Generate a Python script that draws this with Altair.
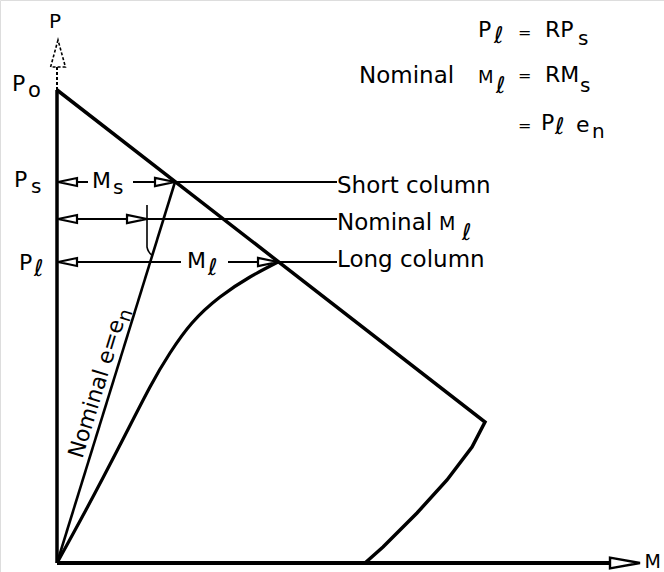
import altair as alt
import pandas as pd

# Drawing units: M to the right, P upward, origin at the corner of the axes.
# Interaction diagram: compression-failure line from Po, then the tension branch.
diagram_M = [0, 428, 415, 390, 360, 326, 308]
diagram_P = [473, 141, 116, 83, 50, 16, 0]

# Load path of the long (slender) column
long_M = [0, 30, 63, 93, 113, 135, 163, 193, 221]
long_P = [0, 55, 118, 176, 210, 240, 266, 286, 301]

# Nominal eccentricity line e = e_n (short-column load path)
nominal_M = [0, 118]
nominal_P = [0, 381]

# Load levels and moments
P_o, P_s, P_nom, P_l = 473, 381, 344, 301
M_s, M_nom, M_l = 118, 90, 221

# Small vertical marker where nominal M_l meets the e = e_n line
tick_M = [90, 90, 92, 95]
tick_P = [358, 316, 311, 308]

# Horizontal dimension lines: (P, M start, M end)
row_P = [P_s, P_s, P_nom, P_l, P_l]
row_M1 = [0, 76, 0, 0, 171]
row_M2 = [31, 280, 280, 124, 280]

M_axis_end = 583
P_axis_end = 523

X = lambda f="M": alt.X(f"{f}:Q", scale=alt.Scale(domain=[-57, 607]), axis=None)
Y = lambda f="P": alt.Y(f"{f}:Q", scale=alt.Scale(domain=[-9, 563]), axis=None)

FONT = "DejaVu Sans"

diagram = alt.Chart(pd.DataFrame({"M": diagram_M, "P": diagram_P, "i": range(len(diagram_M))})).mark_line(
    color="black", strokeWidth=3.5, strokeJoin="miter"
).encode(x=X(), y=Y(), order="i:Q")

long_path = alt.Chart(pd.DataFrame({"M": long_M, "P": long_P})).mark_line(
    color="black", strokeWidth=3.2, interpolate="natural"
).encode(x=X(), y=Y())

nominal = alt.Chart(pd.DataFrame({"M": nominal_M, "P": nominal_P})).mark_line(
    color="black", strokeWidth=2.6
).encode(x=X(), y=Y())

tick = alt.Chart(pd.DataFrame({"M": tick_M, "P": tick_P, "i": range(len(tick_M))})).mark_line(
    color="black", strokeWidth=1.6, interpolate="monotone"
).encode(x=X(), y=Y(), order="i:Q")

rows = alt.Chart(pd.DataFrame({"P": row_P, "M": row_M1, "M2": row_M2})).mark_rule(
    color="black", strokeWidth=2
).encode(x=X(), x2="M2:Q", y=Y())

axes_df = pd.DataFrame({
    "M": [0, 0, 0], "M2": [M_axis_end - 10, 0, 0],
    "P": [0, 0, P_o], "P2": [0, P_o, P_axis_end - 26], "k": ["m", "p", "pd"],
})
m_axis = alt.Chart(axes_df[axes_df.k == "m"]).mark_rule(color="black", strokeWidth=4).encode(
    x=X(), x2="M2:Q", y=Y())
p_axis = alt.Chart(axes_df[axes_df.k == "p"]).mark_rule(color="black", strokeWidth=3.5).encode(
    x=X(), y=Y(), y2="P2:Q")
p_axis_top = alt.Chart(axes_df[axes_df.k == "pd"]).mark_rule(
    color="black", strokeWidth=2, strokeDash=[3, 2]).encode(x=X(), y=Y(), y2="P2:Q")

LEFT = "M0,0L2,-0.42L2,0.42Z"
RIGHT = "M0,0L-2,-0.42L-2,0.42Z"


def heads(Ms, Ps, shape, size, width=2.0, dash=None):
    kw = dict(shape=shape, size=size, filled=True, fill="white", stroke="black",
              strokeWidth=width, opacity=1)
    if dash:
        kw["strokeDash"] = dash
    return alt.Chart(pd.DataFrame({"M": Ms, "P": Ps})).mark_point(**kw).encode(x=X(), y=Y())


left_heads = heads([1, 1, 1], [P_s, P_nom, P_l], LEFT, 361, 2.2)
right_heads = heads([M_s, M_nom, M_l], [P_s, P_nom, P_l], RIGHT, 400, 2.2)
m_head = heads([M_axis_end], [0], "M0,0L-2,-0.36L-2,0.36Z", 900, 2.4)
p_head = heads([1], [P_axis_end], "M0,0L-0.55,2L0.55,2Z", 729, 1.6, [3, 2])

labels = pd.DataFrame([
    ("P", -8, 535, 20),
    ("P", -45, 472, 22), ("o", -29, 466, 21),
    ("P", -43, 376, 22), ("s", -26, 370, 20),
    ("P", -38, 293, 22), ("ℓ", -23, 287, 23),
    ("M", 35, 375, 22), ("s", 56, 369, 20),
    ("M", 130, 295, 22), ("ℓ", 151, 288, 23),
    ("Short column", 280, 370, 23),
    ("Nominal", 280, 333, 23), ("M", 382, 333, 19), ("ℓ", 405, 323, 23),
    ("Long column", 280, 296, 23),
    ("P", 421, 526, 22), ("ℓ", 437, 520, 23), ("=", 461, 525, 16),
    ("RP", 488, 526, 22), ("s", 521, 518, 20),
    ("Nominal", 302, 480, 23), ("M", 421, 480, 18), ("ℓ", 439, 470, 23),
    ("=", 461, 482, 16), ("RM", 488, 481, 22), ("s", 523, 471, 20),
    ("=", 461, 432, 16), ("P", 484, 433, 22), ("ℓ", 498, 429, 23),
    ("e", 519, 431, 22), ("n", 535, 425, 20),
], columns=["t", "M", "P", "fs"])

text = alt.Chart(labels).mark_text(
    font=FONT, align="left", baseline="alphabetic", color="black"
).encode(x=X(), y=Y(), text="t:N", size=alt.Size("fs:Q", scale=None))

# Axis name at the end of the M axis
m_label = alt.Chart(pd.DataFrame({"M": [604], "P": [1]})).mark_text(
    font=FONT, fontSize=19, align="right", baseline="middle", text="M", color="black"
).encode(x=X(), y=Y())

# Label written along the e = e_n line
slope_df = pd.DataFrame({"M": [31], "P": [102]})
rot_main = alt.Chart(slope_df).mark_text(
    font=FONT, fontSize=22, align="left", baseline="alphabetic", angle=287, dy=-6,
    text="Nominal e=e", color="black"
).encode(x=X(), y=Y())
rot_sub = alt.Chart(slope_df).mark_text(
    font=FONT, fontSize=19, align="left", baseline="alphabetic", angle=287, dy=-1, dx=144,
    text="n", color="black"
).encode(x=X(), y=Y())

chart = alt.layer(
    diagram, long_path, nominal, tick, rows, m_axis, p_axis, p_axis_top,
    left_heads, right_heads, m_head, p_head, text, m_label, rot_main, rot_sub
).properties(
    width=664, height=572, padding=0, autosize=alt.AutoSizeParams(type="none")
).configure_view(stroke=None).configure(background="white")

chart.save("out.html", embed_options={"renderer": "svg", "actions": False})
